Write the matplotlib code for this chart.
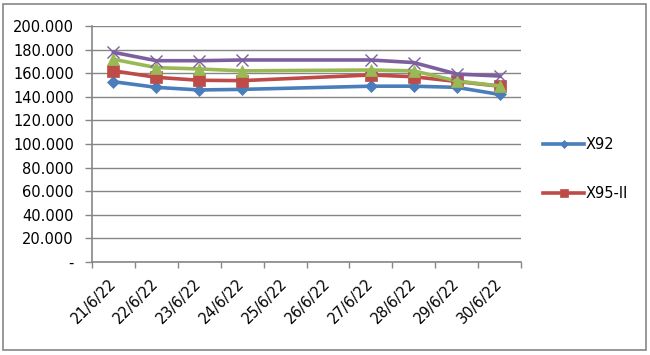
import matplotlib
matplotlib.use("Agg")
import matplotlib.pyplot as plt
import matplotlib.patches as mpatches
import numpy as np

categories = ["21/6/22", "22/6/22", "23/6/22", "24/6/22", "25/6/22",
              "26/6/22", "27/6/22", "28/6/22", "29/6/22", "30/6/22"]
# None = no data for that date (line connects across the gap)
x92     = [152.8, 148.0, 145.8, 146.3, None, None, 149.0, 149.0, 148.0, 142.0]
x95_ii  = [162.0, 156.5, 154.0, 153.7, None, None, 158.5, 157.0, 153.0, 149.0]
green_s = [171.8, 164.7, 163.6, 162.0, None, None, 162.7, 162.0, 153.4, 149.2]
purple_s= [177.7, 170.6, 170.6, 171.2, None, None, 171.2, 169.0, 159.3, 157.6]
yticks = [0, 20, 40, 60, 80, 100, 120, 140, 160, 180, 200]
ytick_labels = ["-", "20.000", "40.000", "60.000", "80.000", "100.000",
                "120.000", "140.000", "160.000", "180.000", "200.000"]

fig = plt.figure(figsize=(6.5, 3.55), dpi=100)
ax = fig.add_axes([92/650, 1-262/355, (521-92)/650, (262-26)/355])

def pts(series):
    xs = [i for i, v in enumerate(series) if v is not None]
    ys = [v for v in series if v is not None]
    return xs, ys

styles = [
    (x92, "X92", "#4A7EBB", "D", 6),
    (x95_ii, "X95-II", "#BE4B48", "s", 8),
    (green_s, "_g", "#98B954", "^", 9),
    (purple_s, "_p", "#7D5FA0", "x", 8),
]
for data, lab, col, mk, ms in styles:
    xs, ys = pts(data)
    ax.plot(xs, ys, color=col, lw=2.6, marker=mk, ms=ms, mew=1.0 if mk == "x" else 0.5,
            mec=col, mfc=col, label=lab, solid_joinstyle="round")

ax.set_xlim(-0.5, len(categories) - 0.5)
ax.set_ylim(0, 200)
ax.set_yticks(yticks)
ax.set_yticklabels(ytick_labels, fontsize=10.5)
ax.set_xticks(range(len(categories)))
ax.set_xticklabels(categories, rotation=45, ha="right", va="center",
                   rotation_mode="anchor", fontsize=10.5)
ax.set_xticks(np.arange(-0.5, len(categories)), minor=True)
ax.tick_params(axis="x", which="major", length=0, pad=14)
ax.tick_params(axis="x", which="minor", length=4, color="#868686", width=1)
ax.tick_params(axis="y", length=5, color="#868686", width=1, pad=8)
ax.grid(axis="y", color="#868686", lw=1)
ax.set_axisbelow(True)
for s in ["top", "right"]:
    ax.spines[s].set_visible(False)
for s in ["left", "bottom"]:
    ax.spines[s].set_color("#868686")
    ax.spines[s].set_linewidth(1.2)

handles, labels = ax.get_legend_handles_labels()
leg = fig.legend(handles[:2], labels[:2], loc="upper left",
                 bbox_to_anchor=(530/650, 1-124/355), frameon=False,
                 fontsize=10.5, handlelength=2.8, labelspacing=2.3,
                 handletextpad=0.1, markerscale=0.7)

fig.add_artist(mpatches.Rectangle((3/650, 1-350/355), 643/650, 346/355,
                                  transform=fig.transFigure, fill=False,
                                  edgecolor="#868686", lw=1.2))
fig.savefig("out.png", dpi=100)
